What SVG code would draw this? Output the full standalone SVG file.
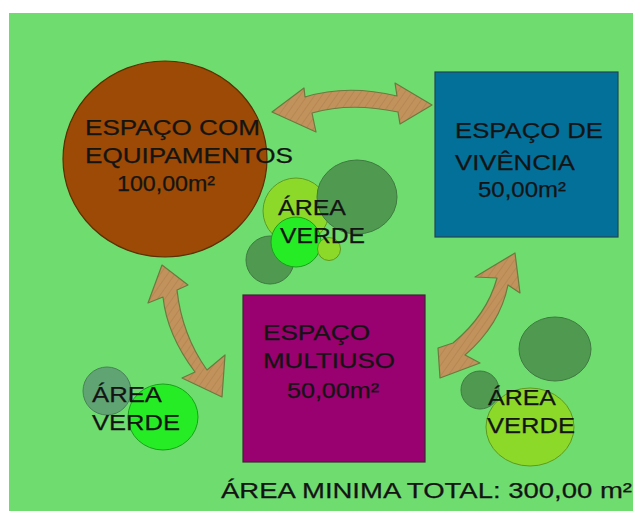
<svg xmlns="http://www.w3.org/2000/svg" width="633" height="511" viewBox="0 0 633 511">
<defs>
<style>
text{font-family:"Liberation Sans",Arial,sans-serif;font-size:22px;fill:#141414;stroke:#141414;stroke-width:0.25}
.arrow{fill:url(#hatch);stroke:#6b7a3e;stroke-width:1.2;stroke-linejoin:round}
.dk{fill:#4f9a50;stroke:#3f7a40;stroke-width:1}
.yg{fill:#8cd92a;stroke:#5f9a20;stroke-width:1}
.bg{fill:#26ec26;stroke:#1aa01a;stroke-width:1}
.gg{fill:#60a474;stroke:#4a8058;stroke-width:1}
</style>
<pattern id="hatch" patternUnits="userSpaceOnUse" width="6" height="6" patternTransform="rotate(35)">
<rect width="6" height="6" fill="#c1925c"/>
<line x1="0" y1="0" x2="0" y2="6" stroke="#b3834e" stroke-width="1.5"/>
</pattern>
</defs>
<rect x="0" y="0" width="633" height="511" fill="#ffffff"/>
<rect x="9" y="13" width="624" height="498" fill="#6fdc6f"/>

<g id="connectors">
<path class="arrow" d="M272,112 L304,88 L305,97 Q347,84 397,96 L395,83 L432,105 L400,124 L398,112 Q350,102 312,113 L316,132 Z"/>
<path class="arrow" d="M162,265 L188,285 L177,290 Q182,335 207,370 L225,355 L222,397 L182,378 L195,372 Q167,335 163,297 L148,303 Z"/>
<path class="arrow" d="M515,253 L520,293 L508,285 Q500,325 465,355 L480,363 L440,378 L438,348 L453,343 Q487,315 497,278 L475,277 Z"/>
</g>

<g id="espaco-equipamentos">
<ellipse cx="165" cy="159" rx="102" ry="98" fill="#9c4a05" stroke="#5a3000" stroke-width="1.2"/>
<text x="85" y="135" textLength="175" lengthAdjust="spacingAndGlyphs">ESPAÇO COM</text>
<text x="85" y="163" textLength="208" lengthAdjust="spacingAndGlyphs">EQUIPAMENTOS</text>
<text x="117" y="191" textLength="98" lengthAdjust="spacingAndGlyphs">100,00m²</text>
</g>

<g id="espaco-vivencia">
<rect x="435" y="72" width="183" height="165" fill="#03709a" stroke="#224455" stroke-width="1.2"/>
<text x="455" y="138" textLength="148" lengthAdjust="spacingAndGlyphs">ESPAÇO DE</text>
<text x="455" y="170" textLength="120" lengthAdjust="spacingAndGlyphs">VIVÊNCIA</text>
<text x="478" y="197" textLength="88" lengthAdjust="spacingAndGlyphs">50,00m²</text>
</g>

<g id="espaco-multiuso">
<rect x="243" y="295" width="182" height="167" fill="#990070" stroke="#3a2a30" stroke-width="1.2"/>
<text x="263" y="340" textLength="107" lengthAdjust="spacingAndGlyphs">ESPAÇO</text>
<text x="263" y="368" textLength="132" lengthAdjust="spacingAndGlyphs">MULTIUSO</text>
<text x="287" y="398" textLength="92" lengthAdjust="spacingAndGlyphs">50,00m²</text>
</g>

<g id="area-verde-centro">
<circle class="yg" cx="296" cy="211" r="33"/>
<ellipse class="dk" cx="357" cy="197" rx="40" ry="37"/>
<circle class="dk" cx="270" cy="260" r="24"/>
<circle class="bg" cx="296" cy="242" r="25"/>
<circle class="yg" cx="329" cy="249" r="11.5"/>
<text x="278" y="215" textLength="68" lengthAdjust="spacingAndGlyphs">ÁREA</text>
<text x="280" y="243" textLength="85" lengthAdjust="spacingAndGlyphs">VERDE</text>
</g>

<g id="area-verde-esquerda">
<circle class="gg" cx="107" cy="391" r="24"/>
<ellipse class="bg" cx="163" cy="417" rx="35" ry="33"/>
<text x="92" y="402" textLength="70" lengthAdjust="spacingAndGlyphs">ÁREA</text>
<text x="92" y="430" textLength="88" lengthAdjust="spacingAndGlyphs">VERDE</text>
</g>

<g id="area-verde-direita">
<ellipse class="dk" cx="555" cy="349" rx="36" ry="32"/>
<ellipse class="yg" cx="530" cy="427" rx="44" ry="39"/>
<circle class="dk" cx="480" cy="390" r="19"/>
<text x="488" y="405" textLength="68" lengthAdjust="spacingAndGlyphs">ÁREA</text>
<text x="487" y="433" textLength="88" lengthAdjust="spacingAndGlyphs">VERDE</text>
</g>

<g id="area-total">
<text x="221" y="498" textLength="411" lengthAdjust="spacingAndGlyphs">ÁREA MINIMA TOTAL:  300,00 m²</text>
</g>
</svg>
